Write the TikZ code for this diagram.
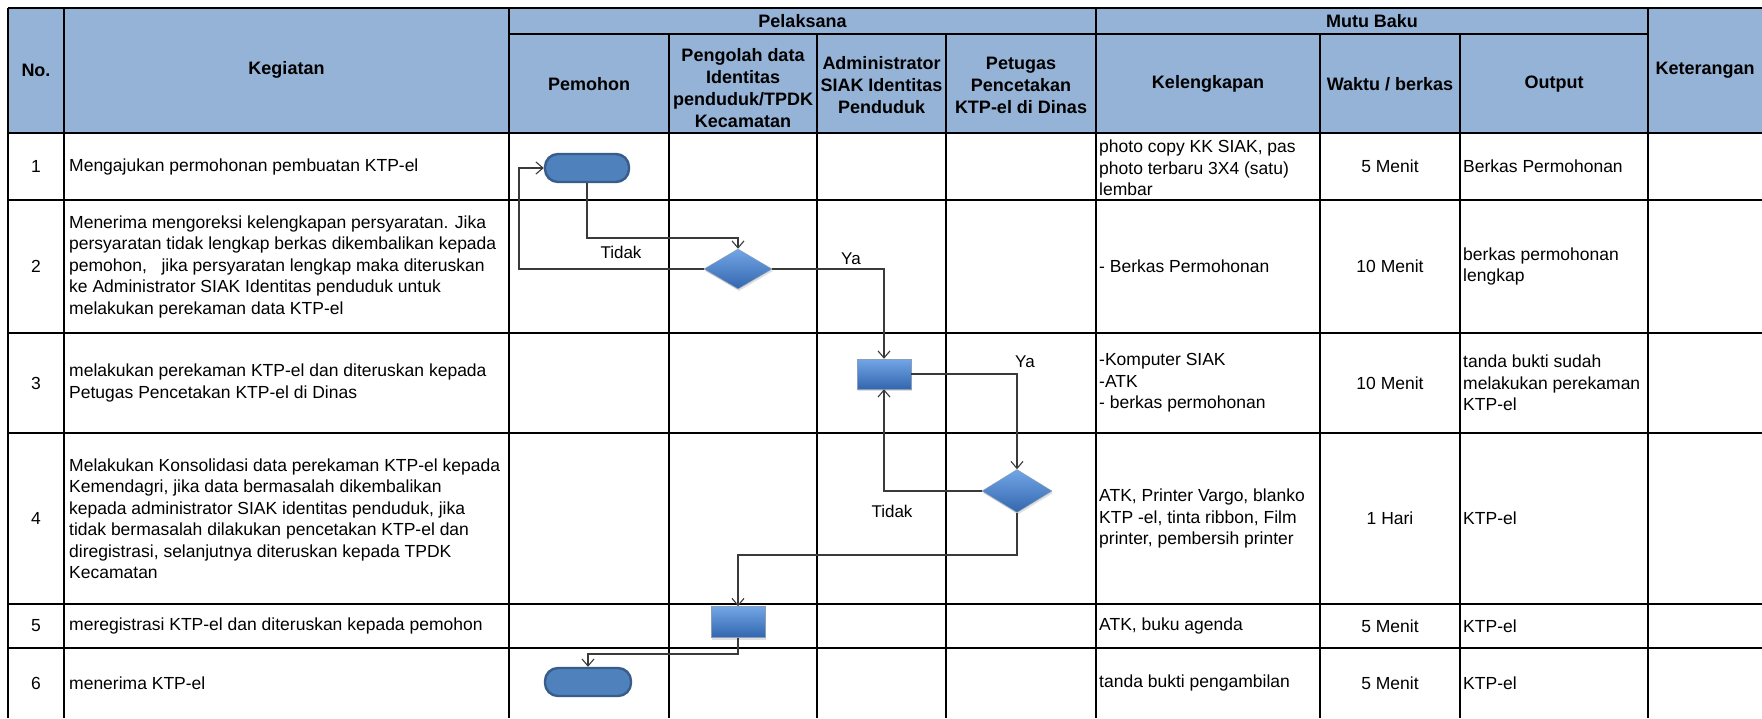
\documentclass[tikz,border=0pt]{standalone}
\usepackage{fontspec}
\setmainfont{Liberation Sans}
\usetikzlibrary{arrows.meta,positioning,shapes.geometric,shadows}
\definecolor{hdrBlue}{HTML}{95B3D7}
\definecolor{shpBlue}{HTML}{4F81BD}
\definecolor{shpEdge}{HTML}{385D8A}
\definecolor{shpTop}{HTML}{72A6E6}
\definecolor{shpLow}{HTML}{3366AE}
\definecolor{inkL}{HTML}{3A3A3A}
\tikzset{
  tblhead/.style={font=\fontsize{18}{22}\selectfont\bfseries, align=center, inner sep=0pt},
  tbltext/.style={font=\fontsize{17.5}{21.5}\selectfont, align=left, anchor=west, inner sep=0pt},
  tblmid/.style={font=\fontsize{17.5}{21.5}\selectfont, align=center, inner sep=0pt},
  gridline/.style={line width=2.2pt, black},
  termbox/.style={rectangle, rounded corners=13pt, minimum width=84pt, minimum height=28pt,
                  fill=shpBlue, draw=shpEdge, line width=2.4pt},
  procbox/.style={rectangle, minimum width=54pt, minimum height=30pt, inner sep=0pt,
                  top color=shpTop, bottom color=shpLow, draw=shpEdge!60, line width=0.5pt,
                  drop shadow={opacity=0.25, shadow xshift=1pt, shadow yshift=-2pt}},
  decibox/.style={diamond, inner sep=0pt, top color=shpTop, bottom color=shpLow,
                  draw=shpEdge!60, line width=0.5pt,
                  drop shadow={opacity=0.25, shadow xshift=1pt, shadow yshift=-2pt}},
  flow/.style={-{Straight Barb[length=7pt, width=12pt]}, line width=1.1pt, draw=inkL},
  flowlab/.style={font=\fontsize{17}{20}\selectfont, inner sep=0pt},
}

\begin{document}
\begin{tikzpicture}[x=1pt, y=-1pt]
  \useasboundingbox (0,0) rectangle (1762,718);
  \fill[white] (0,0) rectangle (1762,718);
  \fill[hdrBlue] (8,8) rectangle (1762,133);
  % table grid
  \foreach \x in {8,64,509,1096,1648}
    \draw[gridline] (\x,8) -- (\x,718);
  \foreach \x in {669,817,946,1320,1460}
    \draw[gridline] (\x,34) -- (\x,718);
  \foreach \y in {8,133,200,333,433,604,648}
    \draw[gridline] (8,\y) -- (1762,\y);
  \draw[gridline] (509,34) -- (1648,34);

  % header
  \node[tblhead] (hNo) at (36,70) {No.};
  \node[tblhead] (hKeg) at (286.5,70) {Kegiatan};
  \node[tblhead] (hPel) at (802.5,21) {Pelaksana};
  \node[tblhead] (hMutu) at (1372,21) {Mutu Baku};
  \node[tblhead] (hKet) at (1705,70) {Keterangan};
  \node[tblhead] (hPem) at (589,84) {Pemohon};
  \node[tblhead] (hPeng) at (743,88) {Pengolah data\\Identitas\\penduduk/TPDK\\Kecamatan};
  \node[tblhead] (hAdm) at (881.5,85) {Administrator\\SIAK Identitas\\Penduduk};
  \node[tblhead] (hPet) at (1021,85) {Petugas\\Pencetakan\\KTP-el di Dinas};
  \node[tblhead] (hKel) at (1208,84) {Kelengkapan};
  \node[tblhead] (hWkt) at (1390,84) {Waktu / berkas};
  \node[tblhead] (hOut) at (1554,84) {Output};

  % rows: number and time
  \foreach \n/\y/\t in {1/166.5/5 Menit, 2/266.5/10 Menit, 3/383/10 Menit,
                        4/518.5/1 Hari, 5/626/5 Menit, 6/683/5 Menit} {
    \node[tblmid] (no\n) at (36,\y) {\n};
    \node[tblmid] (wkt\n) at (1390,\y) {\t};
  }

  % kegiatan
  \node[tbltext] (keg1) at (69,166.5) {Mengajukan permohonan pembuatan KTP-el};
  \node[tbltext] (keg2) at (69,266.5) {Menerima mengoreksi kelengkapan persyaratan. Jika\\
    persyaratan tidak lengkap berkas dikembalikan kepada\\
    pemohon,\ \ \ jika persyaratan lengkap maka diteruskan\\
    ke Administrator SIAK Identitas penduduk untuk\\
    melakukan perekaman data KTP-el};
  \node[tbltext] (keg3) at (69,383) {melakukan perekaman KTP-el dan diteruskan kepada\\
    Petugas Pencetakan KTP-el di Dinas};
  \node[tbltext] (keg4) at (69,518.5) {Melakukan Konsolidasi data perekaman KTP-el kepada\\
    Kemendagri, jika data bermasalah dikembalikan\\
    kepada administrator SIAK identitas penduduk, jika\\
    tidak bermasalah dilakukan pencetakan KTP-el dan\\
    diregistrasi, selanjutnya diteruskan kepada TPDK\\
    Kecamatan};
  \node[tbltext] (keg5) at (69,626) {meregistrasi KTP-el dan diteruskan kepada pemohon};
  \node[tbltext] (keg6) at (69,683) {menerima KTP-el};

  % kelengkapan
  \node[tbltext] (kel1) at (1099,168) {photo copy KK SIAK, pas\\photo terbaru 3X4 (satu)\\lembar};
  \node[tbltext] (kel2) at (1099,266.5) {- Berkas Permohonan};
  \node[tbltext] (kel3) at (1099,383) {-Komputer SIAK\\-ATK\\- berkas permohonan};
  \node[tbltext] (kel4) at (1099,518.5) {ATK, Printer Vargo, blanko\\KTP -el, tinta ribbon, Film\\printer, pembersih printer};
  \node[tbltext] (kel5) at (1099,626) {ATK, buku agenda};
  \node[tbltext] (kel6) at (1099,683) {tanda bukti pengambilan};

  % output
  \node[tbltext] (out1) at (1463,166.5) {Berkas Permohonan};
  \node[tbltext] (out2) at (1463,266.5) {berkas permohonan\\lengkap};
  \node[tbltext] (out3) at (1463,383) {tanda bukti sudah\\melakukan perekaman\\KTP-el};
  \node[tbltext] (out4) at (1463,518.5) {KTP-el};
  \node[tbltext] (out5) at (1463,626) {KTP-el};
  \node[tbltext] (out6) at (1463,683) {KTP-el};

  % flow shapes
  \node[termbox] (mohon1) at (587,168) {};
  \node[decibox, minimum width=68pt, minimum height=40pt] (cek) at (738,269) {};
  \node[procbox] (rekam) at (884,374) {};
  \node[decibox, minimum width=70pt, minimum height=43pt] (konsol) at (1017,491) {};
  \node[procbox, minimum height=31pt] (regis) at (738,622) {};
  \node[termbox, minimum width=86pt] (terima) at (588,682) {};

  % bend points
  \coordinate (loopA) at (519,269);
  \coordinate (b1) at (587,238);
  \coordinate (b2) at (1017,555);
  \coordinate (b3) at (738,654);

  % connectors
  \draw[flow] (cek.west) -- (loopA) |- (mohon1.west);
  \draw[flow] (mohon1.south) -- (b1) -| (cek.north);
  \draw[flow] (cek.east) -| (rekam.north);
  \draw[flow] (rekam.east) -| (konsol.north);
  \draw[flow] (konsol.west) -| (rekam.south);
  \draw[flow] (konsol.south) -- (b2) -| (regis.north);
  \draw[flow] (regis.south) -- (b3) -| (terima.north);

  \node[flowlab] (tidak1) at (621,252) {Tidak};
  \node[flowlab] (ya1) at (851,259) {Ya};
  \node[flowlab] (ya2) at (1025,362) {Ya};
  \node[flowlab] (tidak2) at (892,511) {Tidak};
\end{tikzpicture}
\end{document}
